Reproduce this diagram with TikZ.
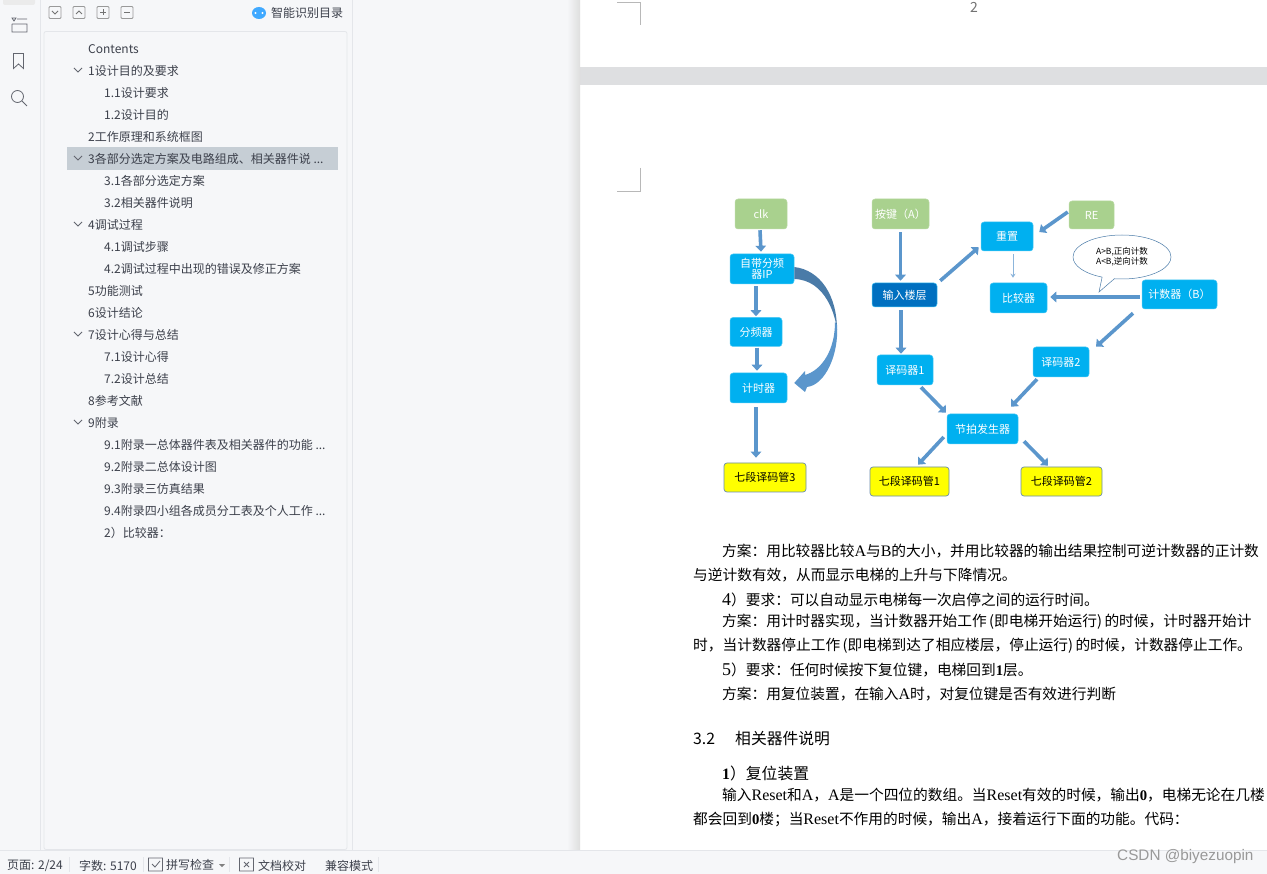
\documentclass[tikz,border=0pt]{standalone}
\usepackage{fontspec}
\setmainfont{Noto Sans CJK SC}
\newfontfamily\latfont{Liberation Serif}
\newfontfamily\wmfont{Liberation Sans}
\usepackage{tikz}
\usetikzlibrary{arrows.meta, positioning, shapes.callouts}

\definecolor{panelbg}{HTML}{F6F7F9}
\definecolor{panelline}{HTML}{E4E6EA}
\definecolor{rowhl}{HTML}{C6CED5}
\definecolor{uitext}{HTML}{3C404B}
\definecolor{bandgray}{HTML}{DEDFE1}
\definecolor{flowblue}{HTML}{5B96CC}
\definecolor{flowdark}{HTML}{4A7BA8}
\definecolor{boxblue}{HTML}{00B0F0}
\definecolor{boxdark}{HTML}{0070C0}
\definecolor{boxgreen}{HTML}{A9D18E}
\definecolor{boxyellow}{HTML}{FFFF00}

\newcommand{\lat}[1]{{\latfont\fontsize{16}{16}\selectfont #1}}
\newcommand{\latbold}[1]{{\latfont\bfseries #1}}
\newcommand{\moredots}{.\kern0pt.\kern0pt.}

\tikzset{
  blockbox/.style={rectangle, rounded corners=3pt, fill=boxblue, draw=boxblue!70!white, line width=0.5pt,
    text=white, font=\fontsize{11}{12}\selectfont, align=center, inner sep=0pt},
  inputbox/.style={blockbox, fill=boxgreen, draw=boxgreen!80!white},
  segbox/.style={blockbox, fill=boxyellow, draw=flowblue!60!gray, text=black, line width=0.7pt},
  flow/.style={-{Triangle[width=10.5pt,length=6pt]}, line width=3.6pt, draw=flowblue},
  tocrow/.style={anchor=west, inner sep=0pt, text=uitext, font=\fontsize{12}{14}\selectfont},
  statustext/.style={anchor=west, inner sep=0pt, text=uitext, font=\fontsize{12}{14}\selectfont},
  bodyline/.style={anchor=west, inner sep=0pt, text=black, font=\fontsize{14.7}{16}\selectfont},
  headline/.style={bodyline, font=\fontsize{15.8}{17}\selectfont},
  cropmark/.style={draw=black!28, line width=0.7pt},
  uiicon/.style={draw=uitext!80, line width=0.8pt},
}

\begin{document}
\begin{tikzpicture}[x=1pt, y=-1pt]
    \useasboundingbox (0,0) rectangle (1267,874);

    % window areas
    \fill [panelbg] (0,0) rectangle (1267,874);
    \fill [white] (580,0) rectangle (1267,850);
    \fill [bandgray] (580,67) rectangle (1267,85);
    \shade [left color=panelbg, right color=black!13] (567,0) rectangle (580,850);
    \draw [panelline] (40,0) -- (40,850);
    \draw [panelline] (352.5,0) -- (352.5,850);
    \draw [panelline, rounded corners=2pt, line width=0.8pt] (44,31.5) rectangle (347,849.5);
    \fill [black!8, rounded corners=2pt] (3,-4) rectangle (35,5);

    % sidebar icons
    \draw [uiicon] (16,18) -- (12,18) -- (14,21) -- cycle (17,19) -- (27,19) (12,24) -- (12,32) -- (27,32) -- (27,24) -- (12,24);
    \draw [uiicon] (13.5,53.5) -- (13.5,68.5) -- (18.5,64) -- (23.5,68.5) -- (23.5,53.5) -- cycle;
    \draw [uiicon] (17.5,96.5) circle (6);
    \draw [uiicon] (22,101) -- (27,106);

    % outline header
    \foreach \btnx in {55,79,103,127}
      \draw [uiicon, draw=black!40, rounded corners=1pt] (\btnx-6,6.5) rectangle (\btnx+6,18.5);
    \draw [uiicon, draw=black!55] (52,11) -- (55,14) -- (58,11);
    \draw [uiicon, draw=black!55] (76,14) -- (79,11) -- (82,14);
    \draw [uiicon, draw=black!55] (100,12.5) -- (106,12.5) (103,9.5) -- (103,15.5);
    \draw [uiicon, draw=black!55] (124,12.5) -- (130,12.5);
    \fill [blue!45!cyan!75!white] (259,13) ellipse (7 and 6);
    \fill [white] (255.5,13) circle (1.1) (262.5,13) circle (1.1);
    \node (smarttoc) [statustext] at (271,13) {智能识别目录};

    % outline rows
    \fill [rowhl] (67,147) rectangle (338,170);
    \foreach \rowy/\rowx/\rowtext in {
      48/88/Contents, 70/88/1设计目的及要求, 92/104/1.1设计要求, 114/104/1.2设计目的,
      136/88/2工作原理和系统框图, 158/88/3各部分选定方案及电路组成、相关器件说 \moredots,
      180/104/3.1各部分选定方案, 202/104/3.2相关器件说明, 224/88/4调试过程,
      246/104/4.1调试步骤, 268/104/4.2调试过程中出现的错误及修正方案, 290/88/5功能测试,
      312/88/6设计结论, 334/88/7设计心得与总结, 356/104/7.1设计心得, 378/104/7.2设计总结,
      400/88/8参考文献, 422/88/9附录, 444/104/9.1附录一总体器件表及相关器件的功能 \moredots,
      466/104/9.2附录二总体设计图, 488/104/9.3附录三仿真结果,
      510/104/9.4附录四小组各成员分工表及个人工作 \moredots, 532/104/2）比较器：}
      \node (toc\rowy) [tocrow] at (\rowx,\rowy+1) {\rowtext};
    \foreach \rowy in {70,158,224,334,422}
      \draw [uiicon] (74,\rowy-2) -- (78,\rowy+2) -- (82,\rowy-2);

    % status bar
    \fill [panelbg] (0,850) rectangle (1267,874);
    \draw [panelline] (0,850.5) -- (1267,850.5);
    \node (stpage) [statustext] at (7,866) {页面: 2/24};
    \node (stcount) [statustext] at (79,866) {字数: 5170};
    \node (stspell) [statustext] at (166,865) {拼写检查};
    \node (stproof) [statustext] at (258,866) {文档校对};
    \node (stcompat) [statustext] at (325,866) {兼容模式};
    \foreach \sepx in {69,143,229,378}
      \draw [panelline] (\sepx,857) -- (\sepx,872);
    \draw [uiicon] (148.5,858) rectangle (162.5,871) (152,864) -- (155,867) -- (160,861);
    \fill [black!50] (219,864) -- (225,864) -- (222,867) -- cycle;
    \draw [uiicon] (239.5,858) rectangle (253.5,871) (244,862) -- (249,867) (249,862) -- (244,867);

    % pages
    \node (pagenum) [inner sep=0pt, text=black!55, font=\fontsize{14}{16}\selectfont] at (974,7) {2};
    \draw [cropmark] (617,2.5) -- (640.5,2.5) -- (640.5,25);
    \draw [cropmark] (640.5,168) -- (640.5,191.5) -- (617,191.5);

    % flow chart nodes
    \node (clk) [inputbox, minimum width=52pt, minimum height=30pt] at (761,214) {clk};
    \node (ipdiv) [blockbox, minimum width=64pt, minimum height=30pt] at (762,269) {自带分频\\[-1.5pt]器IP};
    \node (divider) [blockbox, minimum width=52pt, minimum height=29pt] at (756,332) {分频器};
    \node (timer) [blockbox, minimum width=57pt, minimum height=30pt] at (758.5,388) {计时器};
    \node (segc) [segbox, minimum width=82pt, minimum height=29pt] at (765,477.5) {七段译码管3};
    \node (keyin) [inputbox, minimum width=57pt, minimum height=30pt] at (900.5,214) {按键（A）};
    \node (floorin) [blockbox, fill=boxdark, minimum width=65pt, minimum height=24pt] at (904.5,295) {输入楼层};
    \node (decodera) [blockbox, minimum width=56pt, minimum height=30pt] at (905,370) {译码器1};
    \node (sega) [segbox, minimum width=79pt, minimum height=29pt] at (909.5,481.5) {七段译码管1};
    \node (beat) [blockbox, minimum width=71pt, minimum height=30pt] at (982.5,429) {节拍发生器};
    \node (resetbox) [blockbox, minimum width=52pt, minimum height=29pt] at (1007,236.5) {重置};
    \node (rein) [inputbox, minimum width=45pt, minimum height=28pt] at (1091.5,215) {RE};
    \node (cmp) [blockbox, minimum width=57pt, minimum height=30pt] at (1018.5,298) {比较器};
    \node (counter) [blockbox, minimum width=75pt, minimum height=29pt] at (1179.5,294.5) {计数器（B）};
    \node (decoderb) [blockbox, minimum width=56pt, minimum height=30pt] at (1061,362) {译码器2};
    \node (segb) [segbox, minimum width=81pt, minimum height=29pt] at (1061.5,481.5) {七段译码管2};
    \node (note) [ellipse callout, draw=flowdark, fill=white, line width=0.5pt, minimum width=98pt, minimum height=44pt,
      inner sep=0pt, align=center, font=\fontsize{8.5}{10}\selectfont, callout absolute pointer={(1099,292)}]
      at (1122,257) {A>B,正向计数\\A<B,逆向计数};

    % flow chart connectors
    \draw [flow] ([xshift=-1pt,yshift=-1pt]clk.south) -- ([xshift=-1pt,yshift=2pt]ipdiv.north);
    \draw [flow] ([yshift=-2pt]ipdiv.south -| divider.north) -- ([yshift=1pt]divider.north);
    \draw [flow] ([xshift=1pt,yshift=-1pt]divider.south) -- ([xshift=1pt,yshift=2pt]divider.south |- timer.north);
    \draw [flow] ([xshift=-2.5pt,yshift=-4pt]timer.south) -- ([xshift=-2.5pt,yshift=5pt]timer.south |- segc.north);
    \draw [flow] ([yshift=-3pt]keyin.south) -- ([yshift=2pt]keyin.south |- floorin.north);
    \draw [flow] ([xshift=-3.5pt,yshift=-3pt]floorin.south) -- ([xshift=-3.5pt,yshift=1pt]floorin.south |- decodera.north);
    \draw [flow] ([xshift=16pt,yshift=-2pt]decodera.south) -- ([xshift=-36.5pt,yshift=1pt]beat.north);
    \draw [flow] ([xshift=-3pt,yshift=-8pt]beat.west) -- ([xshift=8.5pt,yshift=2pt]sega.north);
    \draw [flow] ([xshift=3pt,yshift=2pt]floorin.north east) -- ([xshift=-2pt,yshift=4pt]resetbox.south west);
    \draw [flow] ([xshift=-1pt,yshift=3pt]rein.west) -- ([xshift=6pt,yshift=4.5pt]resetbox.east);
    \draw [-{Stealth[width=5pt,length=4pt]}, draw=flowblue!70!white, line width=0.5pt] ([xshift=6pt,yshift=-3pt]resetbox.south) -- ([xshift=-5.5pt,yshift=5pt]cmp.north);
    \draw [flow] ([xshift=-2pt,yshift=-2.5pt]counter.west) -- ([xshift=3pt,yshift=1pt]cmp.east);
    \draw [flow] ([xshift=-46.5pt,yshift=-4pt]counter.south) -- ([xshift=35pt]decoderb.north);
    \draw [flow] ([xshift=-24pt,yshift=-2pt]decoderb.south) -- ([xshift=28.5pt,yshift=7pt]beat.north);
    \draw [flow] ([xshift=41.5pt,yshift=3pt]beat.south) -- ([xshift=-13.5pt,yshift=1pt]segb.north);

    % bent arrow from the ip block to the timer
    \fill [flowdark] (ipdiv.east |- 0,267) .. controls (820,270) and (837,295) .. (837,330)
      .. controls (835.5,316) and (826,280) .. (ipdiv.east |- 0,279) -- cycle;
    \fill [flowblue] (837,325) .. controls (839,355) and (825,385) .. (807,387) -- (805,392)
      -- ([xshift=7pt,yshift=5pt]timer.east) -- (805,371) -- (805,375) .. controls (822,370) and (835,350) .. (835,322) -- cycle;

    % document text
    \node (bodya) [bodyline] at (722,551) {方案：用比较器比较\lat{A}与\lat{B}的大小，并用比较器的输出结果控制可逆计数器的正计数};
    \node (bodyb) [bodyline] at (693,575) {与逆计数有效，从而显示电梯的上升与下降情况。};
    \node (bodyc) [bodyline] at (722,600) {{\latfont\fontsize{18}{18}\selectfont 4}）要求：可以自动显示电梯每一次启停之间的运行时间。};
    \node (bodyd) [bodyline] at (722,622) {方案：用计时器实现，当计数器开始工作\,(即电梯开始运行)\,的时候，计时器开始计};
    \node (bodye) [bodyline] at (693,646) {时，当计数器停止工作\,(即电梯到达了相应楼层，停止运行)\,的时候，计数器停止工作。};
    \node (bodyf) [bodyline] at (722,670) {{\latfont\fontsize{18}{18}\selectfont 5}）要求：任何时候按下复位键，电梯回到\latbold{1}层。};
    \node (bodyg) [bodyline] at (722,694) {方案：用复位装置，在输入\lat{A}时，对复位键是否有效进行判断};
    \node (headnum) [headline] at (693,739) {3.2};
    \node (headtext) [headline] at (735,739) {相关器件说明};
    \node (bodyh) [headline] at (722,773) {\latbold{1}）复位装置};
    \node (bodyi) [bodyline] at (722,795) {输入\lat{Reset}和\lat{A}，\lat{A}是一个四位的数组。当\lat{Reset}有效的时候，输出\latbold{0}，电梯无论在几楼};
    \node (bodyj) [bodyline] at (693,819) {都会回到\latbold{0}楼；当\lat{Reset}不作用的时候，输出\lat{A}，接着运行下面的功能。代码：};

    % watermark
    \node (mark) [anchor=west, inner sep=0pt, text=black!40, font=\wmfont\fontsize{15.3}{16}\selectfont] at (1117,857) {CSDN @biyezuopin};
\end{tikzpicture}
\end{document}
